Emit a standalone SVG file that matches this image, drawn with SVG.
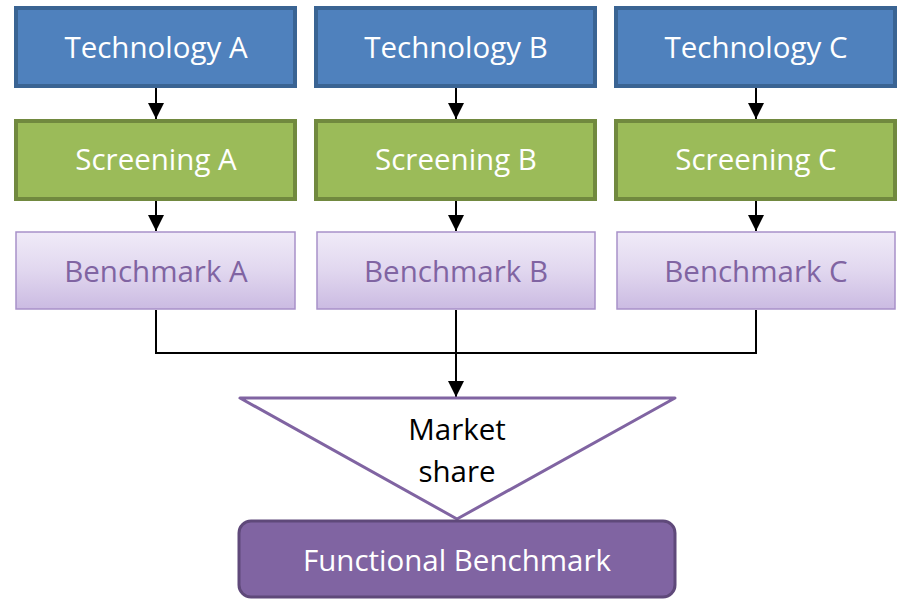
<svg xmlns="http://www.w3.org/2000/svg" width="899" height="599" viewBox="0 0 899 599">
<style>
.tech{fill:#4f81bd;stroke:#3a6493;stroke-width:4}
.scr{fill:#9bbb59;stroke:#71893f;stroke-width:4}
.bm{fill:url(#bmg);stroke:#a891c9;stroke-width:1.5}
.t{font-family:"Open Sans","Liberation Sans",sans-serif;font-size:29.5px;text-anchor:middle}
.w{fill:#ffffff}
.p{fill:#8064a2}
.k{fill:#000000}
.conn{fill:none;stroke:#000;stroke-width:2}
</style>
<defs>
<linearGradient id="bmg" x1="0" y1="0" x2="0" y2="1">
<stop offset="0" stop-color="#f0ebf8"/>
<stop offset="0.5" stop-color="#e1d7ef"/>
<stop offset="1" stop-color="#cbbbe2"/>
</linearGradient>
<marker id="ah2" viewBox="0 0 16 16" refX="16" refY="8" markerWidth="16" markerHeight="16" orient="auto" markerUnits="userSpaceOnUse">
<path d="M0,0 L16,8 L0,16 z" fill="#000"/>
</marker>
</defs>
<g id="connectors">
<line class="conn" x1="156" y1="87" x2="156" y2="119" marker-end="url(#ah2)"/>
<line class="conn" x1="456" y1="87" x2="456" y2="119" marker-end="url(#ah2)"/>
<line class="conn" x1="756" y1="87" x2="756" y2="119" marker-end="url(#ah2)"/>
<line class="conn" x1="156" y1="200" x2="156" y2="231" marker-end="url(#ah2)"/>
<line class="conn" x1="456" y1="200" x2="456" y2="231" marker-end="url(#ah2)"/>
<line class="conn" x1="756" y1="200" x2="756" y2="231" marker-end="url(#ah2)"/>
<polyline class="conn" points="156,310 156,353 756,353 756,310"/>
<line class="conn" x1="456" y1="310" x2="456" y2="397" marker-end="url(#ah2)"/>
</g>
<g id="techA"><rect class="tech" x="16" y="8" width="279" height="78"/><text class="t w" x="156" y="58">Technology A</text></g>
<g id="techB"><rect class="tech" x="316" y="8" width="279" height="78"/><text class="t w" x="456" y="58">Technology B</text></g>
<g id="techC"><rect class="tech" x="616" y="8" width="279" height="78"/><text class="t w" x="756" y="58">Technology C</text></g>
<g id="scrA"><rect class="scr" x="16" y="121" width="279" height="78"/><text class="t w" x="156" y="170">Screening A</text></g>
<g id="scrB"><rect class="scr" x="316" y="121" width="279" height="78"/><text class="t w" x="456" y="170">Screening B</text></g>
<g id="scrC"><rect class="scr" x="616" y="121" width="279" height="78"/><text class="t w" x="756" y="170">Screening C</text></g>
<g id="bmA"><rect class="bm" x="16" y="232" width="279" height="77"/><text class="t p" x="156" y="282">Benchmark A</text></g>
<g id="bmB"><rect class="bm" x="317" y="232" width="278" height="77"/><text class="t p" x="456" y="282">Benchmark B</text></g>
<g id="bmC"><rect class="bm" x="617" y="232" width="278" height="77"/><text class="t p" x="756" y="282">Benchmark C</text></g>
<g id="market">
<polygon points="240,398 675,398 457,519" fill="#ffffff" stroke="#8064a2" stroke-width="3" stroke-linejoin="round"/>
<text class="t k" x="457" y="440">Market</text>
<text class="t k" x="457" y="482">share</text>
</g>
<g id="functional">
<rect x="239" y="521" width="436" height="76" rx="12" fill="#8064a2" stroke="#5f497a" stroke-width="3"/>
<text class="t w" x="457" y="571">Functional Benchmark</text>
</g>
</svg>
